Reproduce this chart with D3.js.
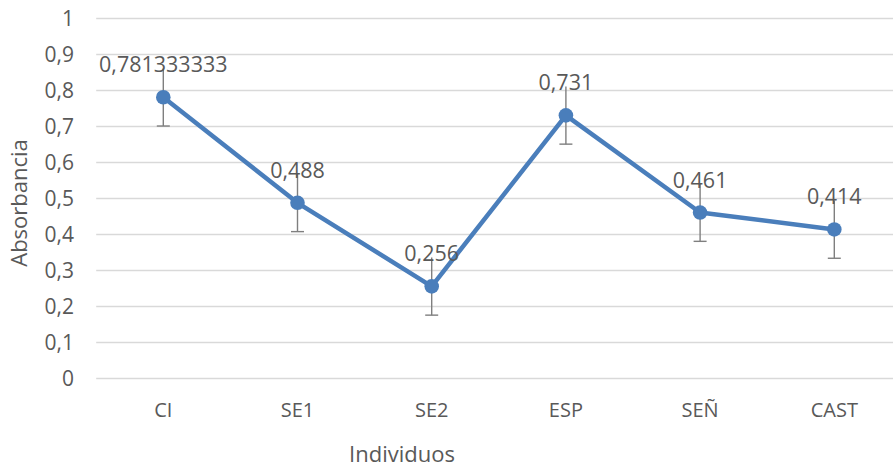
<!DOCTYPE html>
<html><head><meta charset="utf-8">
<script src="https://cdn.jsdelivr.net/npm/d3@7"></script>
<style>
html,body{margin:0;padding:0;background:#fff;overflow:hidden;}
text{font-family:"Open Sans",sans-serif;fill:#595959;}
</style></head>
<body>
<svg id="c" width="893" height="470"></svg>
<script>
const categories = ["CI","SE1","SE2","ESP","SEÑ","CAST"];
const values = [0.781333333,0.488,0.256,0.731,0.461,0.414];
const errors = [0.08,0.08,0.08,0.08,0.08,0.08];
const labels = ["0,781333333","0,488","0,256","0,731","0,461","0,414"];
const yTicks = [0,0.1,0.2,0.3,0.4,0.5,0.6,0.7,0.8,0.9,1];
const yTickLabels = ["0","0,1","0,2","0,3","0,4","0,5","0,6","0,7","0,8","0,9","1"];
const xTitle = "Individuos";
const yTitle = "Absorbancia";

(function(){
const svg = d3.select("#c");
const pLeft = 96.2, pRight = 901.4, pTop = 18.5, pBottom = 378.5;
const x = d3.scaleBand().domain(categories).range([pLeft,pRight]);
const cx = d => x(d) + x.bandwidth()/2;
const y = d3.scaleLinear().domain([0,1]).range([pBottom,pTop]);

// gridlines
svg.append("g").selectAll("line").data(yTicks).join("line")
  .attr("x1",pLeft).attr("x2",893)
  .attr("y1",d=>y(d)).attr("y2",d=>y(d))
  .attr("stroke","#d9d9d9").attr("stroke-width",1.3);

// y axis labels
const yAxis = d3.axisLeft(y).tickValues(yTicks).tickSize(0).tickPadding(0)
  .tickFormat((d,i)=>yTickLabels[i]);
const ya = svg.append("g").attr("transform",`translate(74,0)`).call(yAxis);
ya.select(".domain").remove();
ya.selectAll("text").attr("font-size",21).attr("font-family","Open Sans").attr("fill","#595959").attr("dy","0.35em");

// x axis labels
const xAxis = d3.axisBottom(x).tickSize(0).tickPadding(0);
const xa = svg.append("g").attr("transform",`translate(0,417)`).call(xAxis);
xa.select(".domain").remove();
xa.selectAll("text").attr("font-size",20).attr("font-family","Open Sans").attr("fill","#595959").attr("dy",0);

// titles
svg.append("text").attr("x",402).attr("y",462).attr("text-anchor","middle")
  .attr("font-size",22).text(xTitle);
svg.append("text").attr("transform","translate(27,203) rotate(-90)").attr("text-anchor","middle")
  .attr("font-size",22).text(yTitle);

// line
const data = categories.map((c,i)=>({c,v:values[i],e:errors[i],l:labels[i]}));
svg.append("path").datum(data)
  .attr("d",d3.line().x(d=>cx(d.c)).y(d=>y(d.v)))
  .attr("fill","none").attr("stroke","#4a7ebb").attr("stroke-width",4.5).attr("stroke-linejoin","round");

// error bars
const eb = svg.append("g").attr("stroke","#7f7f7f").attr("stroke-width",1.4);
data.forEach(d=>{
  eb.append("line").attr("x1",cx(d.c)).attr("x2",cx(d.c)).attr("y1",y(d.v+d.e)).attr("y2",y(d.v-d.e));
  eb.append("line").attr("x1",cx(d.c)-6.5).attr("x2",cx(d.c)+6.5).attr("y1",y(d.v-d.e)).attr("y2",y(d.v-d.e));
});

// markers
svg.append("g").selectAll("circle").data(data).join("circle")
  .attr("cx",d=>cx(d.c)).attr("cy",d=>y(d.v)).attr("r",7.3).attr("fill","#4a7ebb");

// data labels
svg.append("g").selectAll("text").data(data).join("text")
  .attr("x",d=>cx(d.c)).attr("y",d=>y(d.v)-25).attr("text-anchor","middle")
  .attr("font-size",21.5).text(d=>d.l);
})();
</script>
</body></html>
